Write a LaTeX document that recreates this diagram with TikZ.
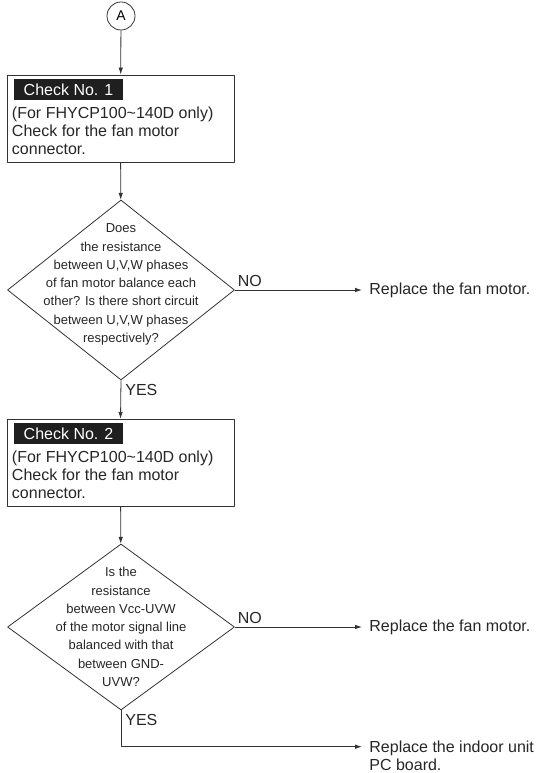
\documentclass[tikz,border=0pt]{standalone}
\usepackage{fontspec}
\setmainfont{Liberation Sans}
\usetikzlibrary{shapes.geometric,arrows.meta}
\begin{document}
\begin{tikzpicture}[x=1pt, y=1pt, font=\fontsize{16}{18}\selectfont, line join=round,
	>={Latex[length=7pt,width=4.5pt]}, line width=.8pt,
	flow/.style={draw=black!80, ->},
	chkbox/.style={draw=black!80, rectangle, minimum width=227, minimum height=87, inner sep=0},
	chktag/.style={fill=black!88, text=white, minimum width=109, minimum height=21, inner sep=0, anchor=north west},
	body/.style={align=left, anchor=north west, inner sep=0, text=black!85},
	ask/.style={draw=black!80, diamond, minimum width=227, minimum height=#1, inner sep=0},
	asktext/.style={align=center, font=\fontsize{13}{18.3}\selectfont, text=black!85},
	ans/.style={inner sep=2.5pt, text=black!85},
	reply/.style={anchor=west, align=left, inner xsep=7pt, inner ysep=0, text=black!85}]
	\useasboundingbox (0,0) rectangle (536,773);
	% connector A and the two checks
	\node[draw=black!80, circle, minimum size=28, inner sep=0, font=\fontsize{14}{16}\selectfont] (A) at (121,757) {A};
	\foreach \n/\y in {1/654.5, 2/310.2}{
		\node[chkbox] (box\n) at (120.5,\y) {};
		\node[chktag] (tag\n) at ([shift={(7,-4)}]box\n.north west) {Check No. \n};
		\node[body] (body\n) at ([shift={(5,-32)}]box\n.north west) {(For FHYCP100\char`~140D only)\\Check for the fan motor\\connector.};
	}
	% decisions
	\node[ask=180] (d1) at (121,483) {};
	\node[asktext] (q1) at (121,488.5) {Does\\the resistance\\between U,V,W phases\\of fan motor balance each\\other? Is there short circuit\\between U,V,W phases\\respectively?};
	\node[ask=166] (d2) at (121,146) {};
	\node[asktext] (q2) at (121,146) {Is the\\resistance\\between Vcc-UVW\\of the motor signal line\\balanced with that\\between GND-\\UVW?};
	% remedies
	\node[reply] (r1) at (362,483) {Replace the fan motor.};
	\node[reply] (r2) at (362,146) {Replace the fan motor.};
	\node[reply, anchor=north west] (r3) at (362,32) {Replace the indoor unit\\PC board.};
	\coordinate (turn) at (121,26.3);
	% flow lines
	\draw[flow] (A) -- (box1);
	\draw[flow] (box1) -- (d1);
	\draw[flow] (d1.south) -- (box2.north) node[ans, pos=0, anchor=north west, inner sep=4pt] (yes1) {YES};
	\draw[flow] (box2) -- (d2);
	\draw[flow] (d1.east) -- (r1.west) node[ans, pos=0, anchor=south west] (no1) {NO};
	\draw[flow] (d2.east) -- (r2.west) node[ans, pos=0, anchor=south west] (no2) {NO};
	\draw[flow] (d2.south) -- (turn) node[ans, pos=0, anchor=north west, inner sep=4pt] (yes2) {YES} -- (turn -| r3.west);
\end{tikzpicture}
\end{document}
